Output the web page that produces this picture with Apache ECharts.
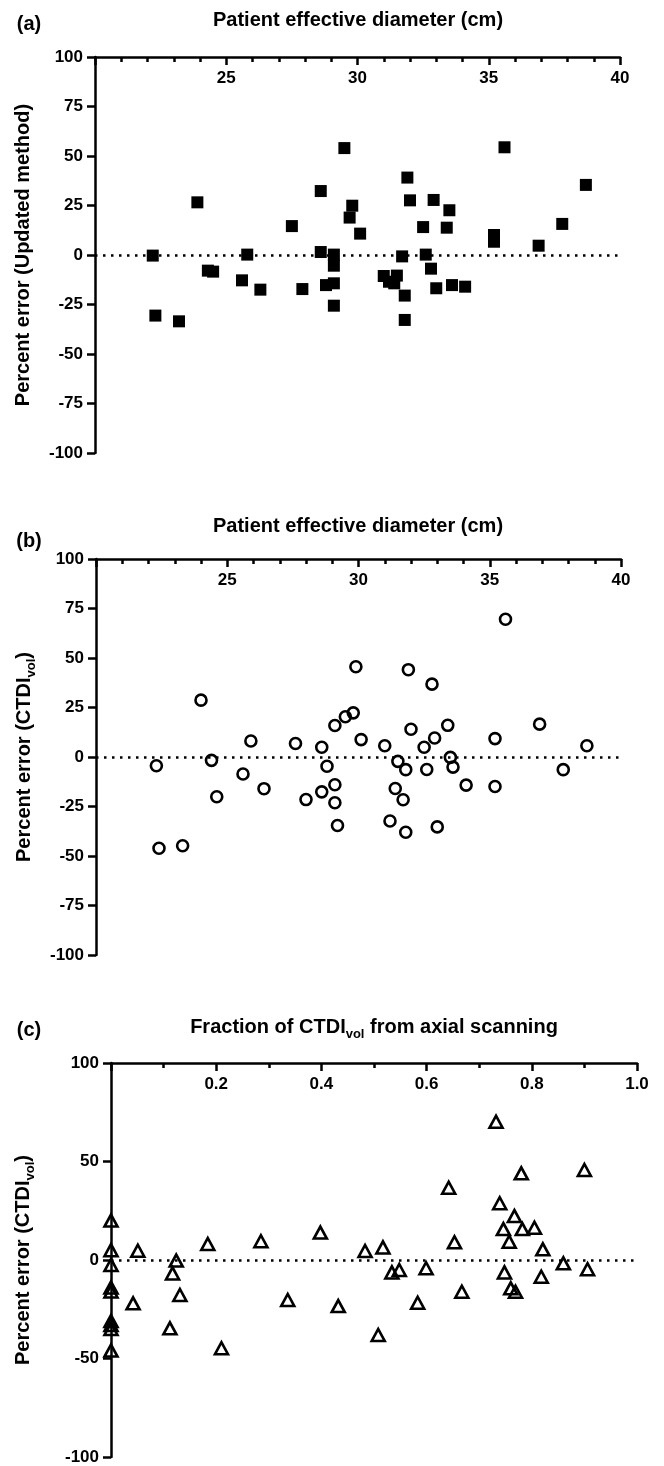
<!DOCTYPE html>
<html>
<head>
<meta charset="utf-8">
<script src="https://cdn.jsdelivr.net/npm/echarts@6/dist/echarts.min.js"></script>
<style>
html, body { margin: 0; padding: 0; background: #fff; }
#chart { width: 664px; height: 1466px; }
</style>
</head>
<body>
<div id="chart"></div>
<script>
// (a) percent error of the updated method vs patient effective diameter
var diamA = [22.2, 22.3, 23.2, 23.9, 24.3, 24.5, 25.6, 25.8, 26.3, 27.5, 27.9, 28.6, 28.6, 28.8, 29.1, 29.1, 29.1, 29.1, 29.5, 29.8, 29.7, 30.1, 31.0, 31.2, 31.4, 31.5, 31.7, 31.8, 31.8, 31.9, 32.0, 32.5, 32.6, 32.8, 32.9, 33.0, 33.4, 33.5, 33.6, 34.1, 35.2, 35.2, 35.6, 36.9, 37.8, 38.7];
var errA = [-0.3, -30.6, -33.5, 26.6, -7.9, -8.4, -12.8, 0.2, -17.5, 14.6, -17.2, 32.3, 1.5, -15.2, -14.3, 0.2, -5.4, -25.6, 54.0, 24.9, 18.9, 10.8, -10.6, -13.5, -14.3, -10.4, -0.7, -20.5, -32.8, 39.1, 27.6, 14.1, 0.2, -6.9, 27.8, -16.8, 13.8, 22.6, -15.2, -16.0, 10.1, 6.7, 54.4, 4.7, 15.7, 35.4];

// (b) percent error of CTDIvol vs patient effective diameter
var diamB = [22.3, 22.4, 23.3, 24.0, 24.4, 24.6, 25.6, 25.9, 26.4, 27.6, 28.0, 28.6, 28.6, 28.8, 29.1, 29.1, 29.1, 29.2, 29.5, 29.8, 29.9, 30.1, 31.0, 31.5, 31.8, 31.4, 31.7, 31.2, 31.8, 31.9, 32.0, 32.5, 32.6, 32.8, 32.9, 33.0, 33.4, 33.5, 33.6, 34.1, 35.2, 35.2, 35.6, 36.9, 37.8, 38.7];
var errB = [-4.4, -46.1, -44.8, 28.7, -1.7, -20.1, -8.6, 8.1, -16.0, 6.8, -21.5, 4.9, -17.6, -4.7, 15.9, -14.0, -23.1, -34.6, 20.3, 22.3, 45.6, 8.8, 5.7, -2.2, -6.4, -15.9, -21.6, -32.3, -38.0, 44.1, 14.0, 4.9, -6.3, 36.8, 9.6, -35.3, 16.0, -0.2, -5.1, -14.2, 9.3, -14.9, 69.6, 16.6, -6.4, 5.7];

// (c) percent error of CTDIvol vs fraction from axial scanning
var fracC = [0, 0, 0, 0, 0, 0, 0, 0, 0, 0.051, 0.124, 0.117, 0.184, 0.285, 0.398, 0.483, 0.517, 0.534, 0.548, 0.599, 0.642, 0.653, 0.732, 0.739, 0.746, 0.748, 0.757, 0.767, 0.780, 0.782, 0.805, 0.821, 0.818, 0.860, 0.900, 0.906, 0.042, 0.131, 0.112, 0.210, 0.336, 0.432, 0.508, 0.583, 0.667, 0.760, 0.769];
var errC = [20, 5, -2.5, -14, -16, -31, -33, -35, -46, 4.7, -0.3, -6.8, 8.1, 9.5, 13.9, 4.6, 6.4, -6.3, -5.1, -4.2, 36.7, 9.0, 70.2, 28.8, 15.7, -6.3, 9.3, 22.3, 44.0, 15.7, 16.4, 5.4, -8.5, -1.7, 45.7, -4.7, -22, -17.8, -34.7, -44.8, -20.3, -23.4, -38.1, -21.7, -16.1, -14.4, -16.1];

var titlesAB = 'Patient effective diameter (cm)';
var yTicksAB = 25, yTicksC = 50;

var FONT = '"Liberation Sans", Arial, Helvetica, sans-serif';
var black = '#000';

function pairs(xs, ys) {
    var out = [];
    for (var i = 0; i < xs.length; i++) out.push([xs[i], ys[i]]);
    return out;
}

function richStyles(key) {
    var b = { fontSize: 20, fontWeight: 'bold', fontFamily: FONT, lineHeight: 24, verticalAlign: 'bottom' };
    var s = { fontSize: 13, fontWeight: 'bold', fontFamily: FONT, lineHeight: 24, verticalAlign: 'bottom', padding: [0, 0, -4, 0] };
    b[key] = black; s[key] = black;
    return { b: b, s: s };
}

function xAx(g, min, max, step, minor, fmt) {
    return {
        gridIndex: g, type: 'value', position: 'top',
        min: min, max: max, interval: step,
        axisLine: { show: true, onZero: false, lineStyle: { color: black, width: 2.5 } },
        axisTick: { show: true, inside: true, length: 8, lineStyle: { color: black, width: 2.5 } },
        minorTick: { show: true, splitNumber: minor, length: 5, lineStyle: { color: black, width: 2.5 } },
        axisLabel: {
            inside: true, margin: 13, showMinLabel: false, color: black,
            fontWeight: 'bold', fontSize: 17, fontFamily: FONT, formatter: fmt
        },
        splitLine: { show: false }, minorSplitLine: { show: false }
    };
}

function yAx(g, step, name, gap) {
    return {
        gridIndex: g, type: 'value', min: -100, max: 100, interval: step,
        axisLine: { show: true, onZero: false, lineStyle: { color: black, width: 2.5 } },
        axisTick: { show: true, length: 8, lineStyle: { color: black, width: 2.5 } },
        axisLabel: { margin: 12, color: black, fontWeight: 'bold', fontSize: 17, fontFamily: FONT },
        splitLine: { show: false },
        name: name, nameLocation: 'middle', nameGap: gap,
        nameTextStyle: { rich: richStyles('color') }
    };
}

function zeroLine() {
    return {
        silent: true, symbol: 'none', animation: false,
        label: { show: false },
        lineStyle: { color: black, type: [2.5, 5.5], width: 2.5, opacity: 1 },
        emphasis: { disabled: true },
        data: [{ yAxis: 0 }]
    };
}

function label(x, y, text) {
    return {
        type: 'text', x: x, y: y,
        style: { text: text, textAlign: 'center', textVerticalAlign: 'middle', rich: richStyles('fill') }
    };
}

var chart = echarts.init(document.getElementById('chart'));
var option = {
    animation: false,
    backgroundColor: '#fff',
    grid: [
        { left: 95, right: 44, top: 57, height: 396 },
        { left: 96, right: 43, top: 559, height: 396 },
        { left: 111, right: 27, top: 1063, height: 394 }
    ],
    graphic: [
        label(29, 22, '{b|(a)}'),
        label(358, 18, '{b|' + titlesAB + '}'),
        label(29, 539, '{b|(b)}'),
        label(358, 524, '{b|' + titlesAB + '}'),
        label(29, 1028, '{b|(c)}'),
        label(374, 1025, '{b|Fraction of CTDI}{s|vol}{b| from axial scanning}')
    ],
    xAxis: [
        xAx(0, 20, 40, 5, 5),
        xAx(1, 20, 40, 5, 5),
        xAx(2, 0, 1, 0.2, 2, function (v) { return v.toFixed(1); })
    ],
    yAxis: [
        yAx(0, yTicksAB, '{b|Percent error (Updated method)}', 62),
        yAx(1, yTicksAB, '{b|Percent error (CTDI}{s|vol}{b|)}', 62),
        yAx(2, yTicksC, '{b|Percent error (CTDI}{s|vol}{b|)}', 78)
    ],
    series: [
        {
            type: 'scatter', xAxisIndex: 0, yAxisIndex: 0, clip: false,
            symbol: 'rect', symbolSize: 12,
            itemStyle: { color: black, opacity: 1 },
            data: pairs(diamA, errA),
            markLine: zeroLine()
        },
        {
            type: 'scatter', xAxisIndex: 1, yAxisIndex: 1, clip: false,
            symbol: 'circle', symbolSize: 11,
            itemStyle: { color: 'rgba(255,255,255,0)', borderColor: black, borderWidth: 2.6, opacity: 1 },
            data: pairs(diamB, errB),
            markLine: zeroLine()
        },
        {
            type: 'scatter', xAxisIndex: 2, yAxisIndex: 2, clip: false,
            symbol: 'triangle', symbolSize: [13, 12],
            itemStyle: { color: 'rgba(255,255,255,0)', borderColor: black, borderWidth: 2.6, opacity: 1 },
            data: pairs(fracC, errC),
            markLine: zeroLine()
        }
    ]
};
chart.setOption(option);
</script>
</body>
</html>
